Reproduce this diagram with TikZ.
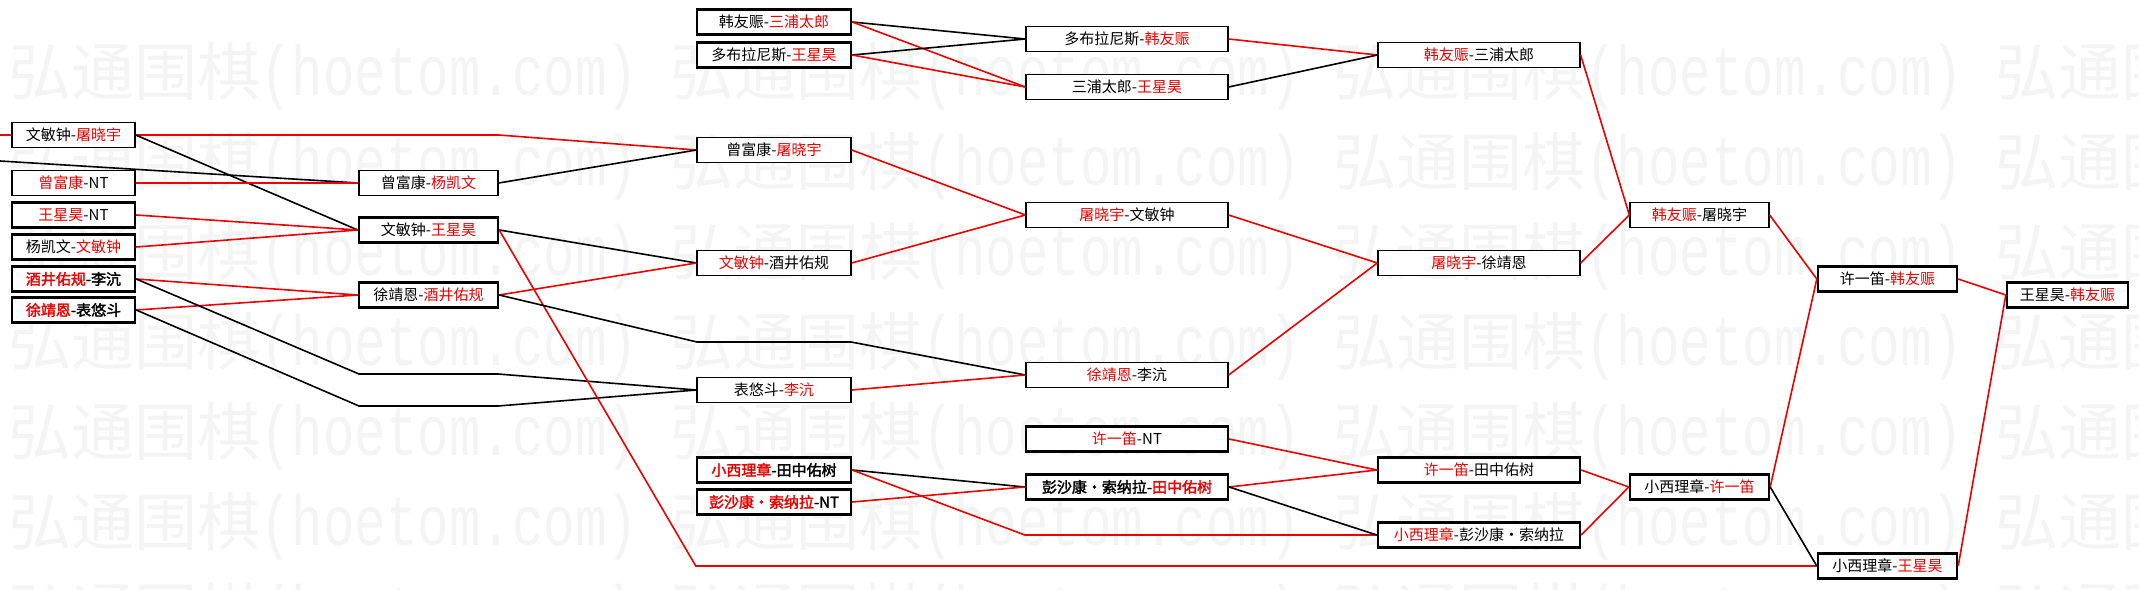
\documentclass[tikz,border=0pt]{standalone}
\usepackage{fontspec}
\usepackage{graphicx}
\setmainfont{Noto Sans CJK SC}[AutoFakeBold=2]
\newfontfamily\wmmono{Liberation Mono}
\definecolor{winred}{RGB}{235,0,0}
\definecolor{wmgray}{RGB}{244,244,244}
\newcommand{\winner}[1]{\textcolor{winred}{#1}}

\begin{document}
\begin{tikzpicture}[x=1pt,y=-1pt,
        match/.style={draw,line width=1.3pt,fill=white,inner sep=0pt,minimum height=25pt,font=\fontsize{15}{15}\selectfont},
        strong/.style={match,line width=2.4pt},
        heavy/.style={strong,font=\fontsize{15}{15}\selectfont\bfseries},
        win/.style={winred,line width=1.6pt},
        lose/.style={black,line width=1.6pt},
        wmark/.style={wmgray,inner sep=0pt,anchor=base west,font=\fontsize{63}{63}\selectfont}]
    \useasboundingbox (0,0) rectangle (2139,589);
    \clip (0,0) rectangle (2139,589);
    % watermark
    \foreach \row in {0,...,6}
        \foreach \col in {0,...,3}
            \node[wmark] at (8+662.5*\col,95+90*\row) {弘通围棋{\wmmono\fontsize{52.5}{52.5}\selectfont\scalebox{1}[1.35]{(hoetom.com)}}};
    % round 1
    \node[match,minimum width=123pt] (a1) at (73.5,135) {文敏钟-\winner{屠晓宇}};
    \node[match,minimum width=123pt] (a2) at (73.5,183) {\winner{曾富康}-NT};
    \node[strong,minimum width=123pt] (a3) at (73.5,215) {\winner{王星昊}-NT};
    \node[strong,minimum width=123pt] (a4) at (73.5,247) {杨凯文-\winner{文敏钟}};
    \node[heavy,minimum width=123pt] (a5) at (73.5,279) {\winner{酒井佑规}-李沆};
    \node[heavy,minimum width=123pt] (a6) at (73.5,310) {\winner{徐靖恩}-表悠斗};
    % round 2
    \node[match,minimum width=139pt] (b1) at (428.5,183) {曾富康-\winner{杨凯文}};
    \node[strong,minimum width=139pt] (b2) at (428.5,230) {文敏钟-\winner{王星昊}};
    \node[strong,minimum width=139pt] (b3) at (428.5,295) {徐靖恩-\winner{酒井佑规}};
    % round 3
    \node[strong,minimum width=154pt] (c1) at (774,22) {韩友赈-\winner{三浦太郎}};
    \node[strong,minimum width=154pt] (c2) at (774,55) {多布拉尼斯-\winner{王星昊}};
    \node[match,minimum width=154pt] (c3) at (774,150) {曾富康-\winner{屠晓宇}};
    \node[match,minimum width=154pt] (c4) at (774,263) {\winner{文敏钟}-酒井佑规};
    \node[match,minimum width=154pt] (c5) at (774,390) {表悠斗-\winner{李沆}};
    \node[heavy,minimum width=154pt] (c6) at (774,470) {\winner{小西理章}-田中佑树};
    \node[heavy,minimum width=154pt] (c7) at (774,502) {\winner{彭沙康・索纳拉}-NT};
    % round 4
    \node[match,minimum width=202pt] (d1) at (1127,39) {多布拉尼斯-\winner{韩友赈}};
    \node[match,minimum width=202pt] (d2) at (1127,87) {三浦太郎-\winner{王星昊}};
    \node[match,minimum width=202pt] (d3) at (1127,215) {\winner{屠晓宇}-文敏钟};
    \node[match,minimum width=202pt] (d4) at (1127,375) {\winner{徐靖恩}-李沆};
    \node[strong,minimum width=202pt] (d5) at (1127,439) {\winner{许一笛}-NT};
    \node[heavy,minimum width=202pt] (d6) at (1127,487) {彭沙康・索纳拉-\winner{田中佑树}};
    % round 5
    \node[match,minimum width=202pt] (e1) at (1479,55) {\winner{韩友赈}-三浦太郎};
    \node[match,minimum width=202pt] (e2) at (1479,263) {\winner{屠晓宇}-徐靖恩};
    \node[strong,minimum width=202pt] (e3) at (1479,470) {\winner{许一笛}-田中佑树};
    \node[strong,minimum width=202pt] (e4) at (1479,535) {\winner{小西理章}-彭沙康・索纳拉};
    % round 6 and on
    \node[match,minimum width=139pt] (f1) at (1699.5,215) {\winner{韩友赈}-屠晓宇};
    \node[strong,minimum width=139pt] (f2) at (1699.5,487) {小西理章-\winner{许一笛}};
    \node[strong,minimum width=139pt] (g1) at (1887.5,279) {许一笛-\winner{韩友赈}};
    \node[strong,minimum width=139pt] (g2) at (1887.5,566) {小西理章-\winner{王星昊}};
    \node[strong,minimum width=121pt] (fin) at (2067.5,295) {王星昊-\winner{韩友赈}};
    % lines coming in from the left
    \coordinate (in1) at (0,135);
    \coordinate (in2) at (0,161);
    \draw[win] (in1) -- (a1.west);
    \draw[lose] (in2) -- (b1.west);
    % round 1 -> round 2
    \draw[win] (a1.east) -- (a1.east -| b1.east) -- (c3.west);
    \draw[lose] (a1.east) -- (b2.west);
    \draw[win] (a2.east) -- (b1.west);
    \draw[win] (a3.east) -- (b2.west);
    \draw[win] (a4.east) -- (b2.west);
    \draw[win] (a5.east) -- (b3.west);
    \draw[win] (a6.east) -- (b3.west);
    \draw[lose] (a5.east) -- (359,374) -- (498,374) -- (c5.west);
    \draw[lose] (a6.east) -- (359,406) -- (498,406) -- (c5.west);
    % round 2 -> round 3
    \draw[lose] (b1.east) -- (c3.west);
    \draw[lose] (b2.east) -- (c4.west);
    \draw[win] (b2.east) -- (c6.west |- g2.west) -- (g2.west);
    \draw[win] (b3.east) -- (c4.west);
    \draw[lose] (b3.east) -- (697,342) -- (851,342) -- (d4.west);
    % round 3 -> round 4
    \draw[lose] (c1.east) -- (d1.west);
    \draw[win] (c1.east) -- (d2.west);
    \draw[lose] (c2.east) -- (d1.west);
    \draw[win] (c2.east) -- (d2.west);
    \draw[win] (c3.east) -- (d3.west);
    \draw[win] (c4.east) -- (d3.west);
    \draw[win] (c5.east) -- (d4.west);
    \draw[lose] (c6.east) -- (d6.west);
    \draw[win] (c6.east) -- (d6.west |- e4.west) -- (e4.west);
    \draw[win] (c7.east) -- (d6.west);
    % round 4 -> round 5
    \draw[win] (d1.east) -- (e1.west);
    \draw[lose] (d2.east) -- (e1.west);
    \draw[win] (d3.east) -- (e2.west);
    \draw[win] (d4.east) -- (e2.west);
    \draw[win] (d5.east) -- (e3.west);
    \draw[win] (d6.east) -- (e3.west);
    \draw[lose] (d6.east) -- (e4.west);
    % to the end
    \draw[win] (e1.east) -- (f1.west);
    \draw[win] (e2.east) -- (f1.west);
    \draw[win] (e3.east) -- (f2.west);
    \draw[win] (e4.east) -- (f2.west);
    \draw[win] (f1.east) -- (g1.west);
    \draw[win] (f2.east) -- (g1.west);
    \draw[lose] (f2.east) -- (g2.west);
    \draw[win] (g1.east) -- (fin.west);
    \draw[win] (g2.east) -- (fin.west);
\end{tikzpicture}
\end{document}
